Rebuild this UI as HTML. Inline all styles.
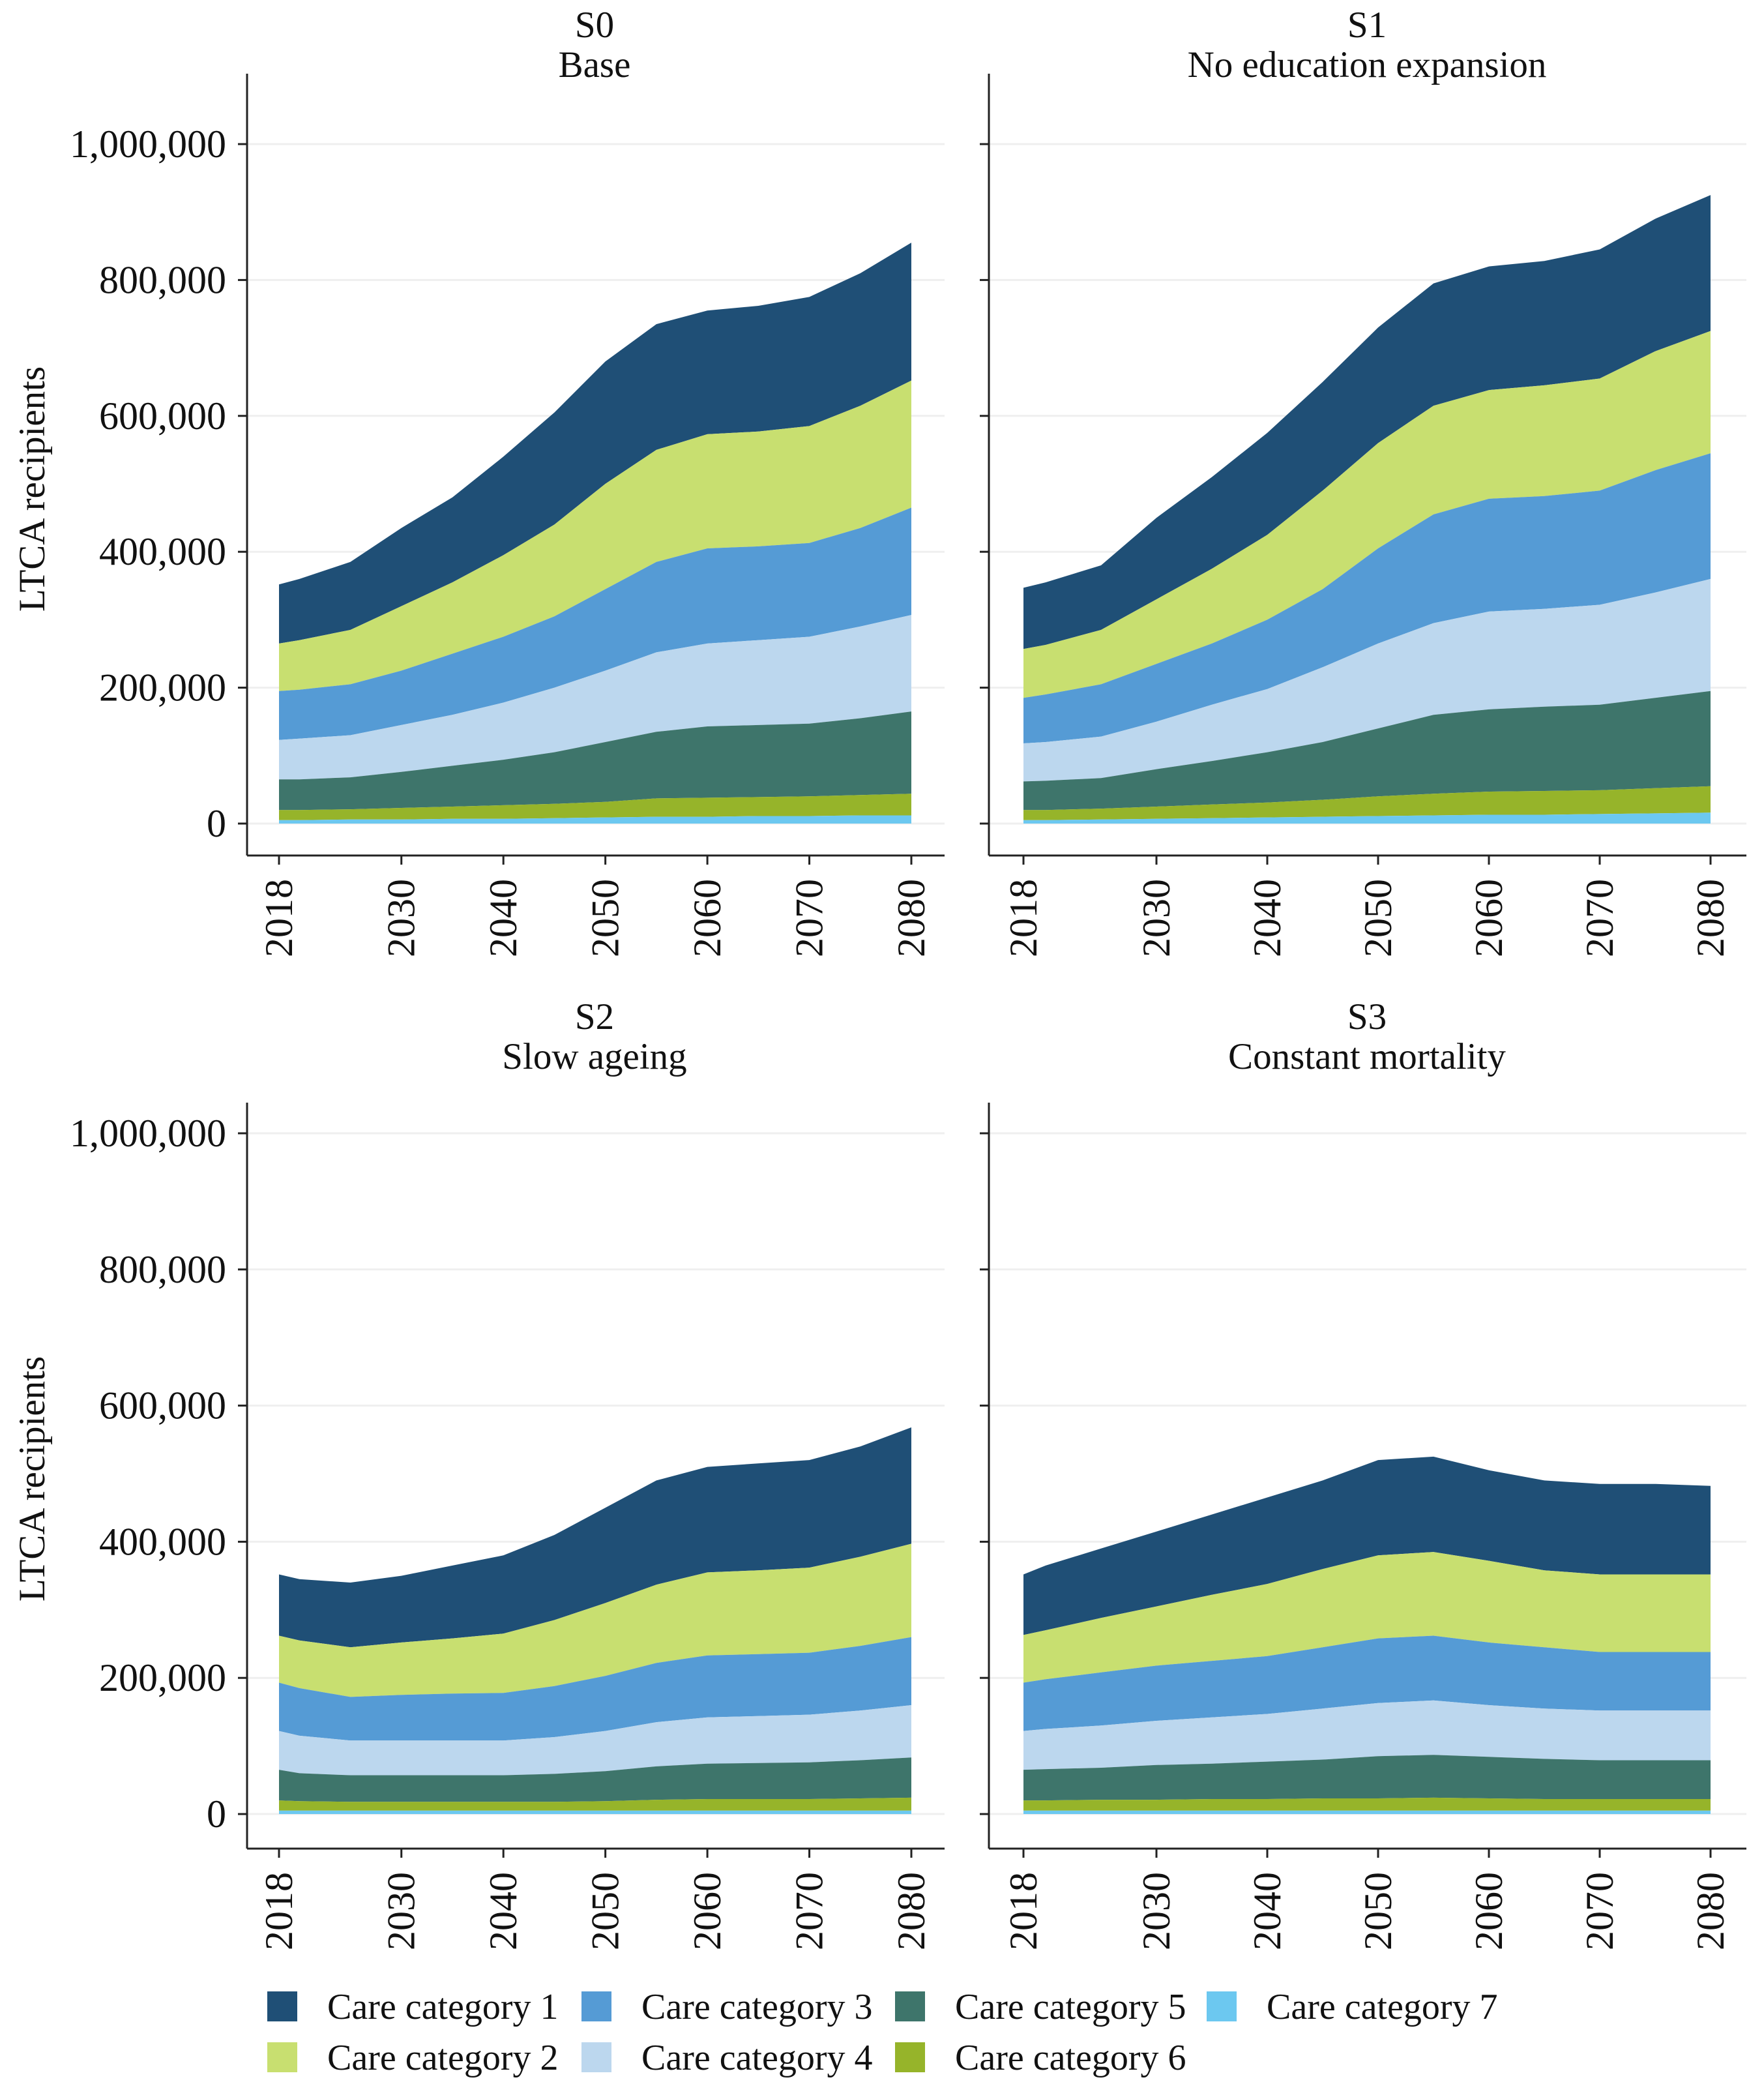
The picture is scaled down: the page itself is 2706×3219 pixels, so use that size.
<!DOCTYPE html>
<html><head><meta charset="utf-8"><style>
html,body{margin:0;padding:0;background:#fff;}
svg{display:block;font-family:"Liberation Serif",serif;}
</style></head><body>
<svg id="chart" width="2706" height="3219" viewBox="0 0 2706 3219" xmlns="http://www.w3.org/2000/svg">
<g id="root"></g>
</svg>
<script>
const years = [2018,2020,2025,2030,2035,2040,2045,2050,2055,2060,2065,2070,2075,2080];
const xTicks = [2018,2030,2040,2050,2060,2070,2080];
const yTicks = [0,200000,400000,600000,800000,1000000];
const yTickLabels = ["0","200,000","400,000","600,000","800,000","1,000,000"];
const categories = ["Care category 1","Care category 2","Care category 3","Care category 4","Care category 5","Care category 6","Care category 7"];
const colors = ["#1f4f76","#c8df70","#559bd5","#bcd7ee","#3e756b","#96b42a","#6cc8f0"];
// stacked levels (thousands): top of each category band, cat1 = total
const s0_levels = [
 [352,360,385,435,480,540,605,680,735,755,762,775,810,855],
 [265,270,285,320,355,395,440,500,550,573,577,585,615,652],
 [195,197,205,225,250,275,305,345,385,405,408,413,435,465],
 [123,125,130,145,160,178,200,225,252,265,270,275,290,307],
 [65,65,68,76,85,94,105,120,135,143,145,147,155,165],
 [20,20,21,23,25,27,29,32,37,38,39,40,42,44],
 [5,5,6,6,7,7,8,9,10,10,11,11,12,12]];
const s1_levels = [
 [347,355,380,450,510,575,650,730,795,820,828,845,890,925],
 [257,263,285,330,375,425,490,560,615,638,645,655,695,725],
 [185,190,205,235,265,300,345,405,455,478,482,490,520,545],
 [118,120,128,150,175,198,230,265,295,312,316,322,340,360],
 [62,63,67,80,92,105,120,140,160,168,172,175,185,195],
 [20,20,22,25,28,31,35,40,44,47,48,49,52,55],
 [5,5,6,7,8,9,10,11,12,13,13,14,15,16]];
const s2_levels = [
 [352,345,340,350,365,380,410,450,490,510,515,520,540,568],
 [262,255,245,252,258,265,285,310,337,355,358,362,378,397],
 [193,185,172,175,177,178,188,203,222,233,235,237,247,260],
 [122,115,108,108,108,108,113,122,135,142,144,146,152,160],
 [65,60,57,57,57,57,59,63,70,74,75,76,79,83],
 [20,19,18,18,18,18,18,19,21,22,22,22,23,24],
 [5,5,5,5,5,5,5,5,5,5,5,5,5,5]];
const s3_levels = [
 [352,365,390,415,440,465,490,520,525,505,490,485,485,482],
 [263,270,288,305,322,338,360,380,385,372,358,352,352,352],
 [193,198,208,218,225,232,245,258,262,252,245,238,238,238],
 [122,125,130,137,142,147,155,163,167,160,155,152,152,152],
 [65,66,68,72,74,77,80,85,87,84,81,79,79,79],
 [20,20,21,21,22,22,23,23,24,23,22,22,22,22],
 [5,5,5,5,5,5,5,5,5,5,5,5,5,5]];
const panelCodes = ["S0","S1","S2","S3"];
const panelNames = ["Base","No education expansion","Slow ageing","Constant mortality"];

const NS="http://www.w3.org/2000/svg";
const root=document.getElementById('root');
function mk(tag,attrs,parent){const e=document.createElementNS(NS,tag);for(const k in attrs)e.setAttribute(k,attrs[k]);(parent||root).appendChild(e);return e;}

const panels=[
 {levels:s0_levels,ax:379,x0:428,x1:1398,r:1449,top:113,y0:1263,y1:221,bot:1312,labels:true,tx:912,ty:37},
 {levels:s1_levels,ax:1517,x0:1570,x1:2624,r:2679,top:113,y0:1263,y1:221,bot:1312,labels:false,tx:2097,ty:37},
 {levels:s2_levels,ax:379,x0:428,x1:1398,r:1449,top:1691,y0:2782,y1:1738,bot:2835,labels:true,tx:912,ty:1558},
 {levels:s3_levels,ax:1517,x0:1570,x1:2624,r:2679,top:1691,y0:2782,y1:1738,bot:2835,labels:false,tx:2097,ty:1558}];

panels.forEach((p,pi)=>{
 const g=mk('g',{});
 
 
 const xs=v=>p.x0+(v-2018)/(2080-2018)*(p.x1-p.x0);
 const ys=v=>p.y0+(v-0)/1000000*(p.y1-p.y0);
 yTicks.forEach((t,i)=>{
  const l=mk('line',{x1:p.ax,x2:p.r,y1:ys(t),y2:ys(t),stroke:'#efefef','stroke-width':3},g);
  
  
 });
 for(let c=0;c<7;c++){
  const top=p.levels[c], below=c<6?p.levels[c+1]:null;
  let d='';
  years.forEach((yr,i)=>{d+=(i?'L':'M')+xs(yr).toFixed(1)+','+ys(top[i]*1000).toFixed(1);});
  for(let i=years.length-1;i>=0;i--){d+='L'+xs(years[i]).toFixed(1)+','+ys(below?below[i]*1000:0).toFixed(1);}
  d+='Z';
  const a=mk('path',{d:d,fill:colors[c]},g);
  
  
 }
 const ya=mk('line',{x1:p.ax,x2:p.ax,y1:p.top,y2:p.bot,stroke:'#222','stroke-width':3},g);
 
 
 const xa=mk('line',{x1:p.ax,x2:p.r,y1:p.bot,y2:p.bot,stroke:'#222','stroke-width':3},g);
 
 
 yTicks.forEach((t,i)=>{
  const tk=mk('line',{x1:p.ax-14,x2:p.ax,y1:ys(t),y2:ys(t),stroke:'#222','stroke-width':3},g);
  
  
  if(p.labels){
   const tl=mk('text',{x:p.ax-32,y:ys(t)+20,'text-anchor':'end','font-size':60,fill:'#111'},g);
   tl.textContent=yTickLabels[i];
   
   
  }
 });
 xTicks.forEach(t=>{
  const tk=mk('line',{x1:xs(t),x2:xs(t),y1:p.bot,y2:p.bot+14,stroke:'#222','stroke-width':3},g);
  
  
  const tl=mk('text',{x:0,y:0,'text-anchor':'end','font-size':60,fill:'#111',transform:`translate(${xs(t)+20},${p.bot+36}) rotate(-90)`},g);
  tl.textContent=String(t);
  
  
 });
 const t1=mk('text',{x:p.tx,y:p.ty+20,'text-anchor':'middle','font-size':57,fill:'#111'},g);
 t1.textContent=panelCodes[pi];
 
 
 const t2=mk('text',{x:p.tx,y:p.ty+81,'text-anchor':'middle','font-size':57,fill:'#111'},g);
 t2.textContent=panelNames[pi];
 
 
 if(p.labels){
  const yt=mk('text',{x:0,y:0,'text-anchor':'middle','font-size':57,fill:'#111',transform:`translate(68,${(p.y0+p.y1)/2+8}) rotate(-90)`},g);
  yt.textContent='LTCA recipients';
  
  
 }
});
const lg=mk('g',{});


const lx=[410,892,1373,1851];
const order=[0,2,4,6,1,3,5];
order.forEach((c,i)=>{
 const row=i<4?0:1, col=i<4?i:i-4;
 const cy=row?3155:3077;
 const r=mk('rect',{x:lx[col],y:cy-23,width:46,height:46,fill:colors[c]},lg);
 
 
 const t=mk('text',{x:lx[col]+92,y:cy+19,'font-size':56,fill:'#111'},lg);
 t.textContent=categories[c];
 
 
});
</script>
</body></html>
